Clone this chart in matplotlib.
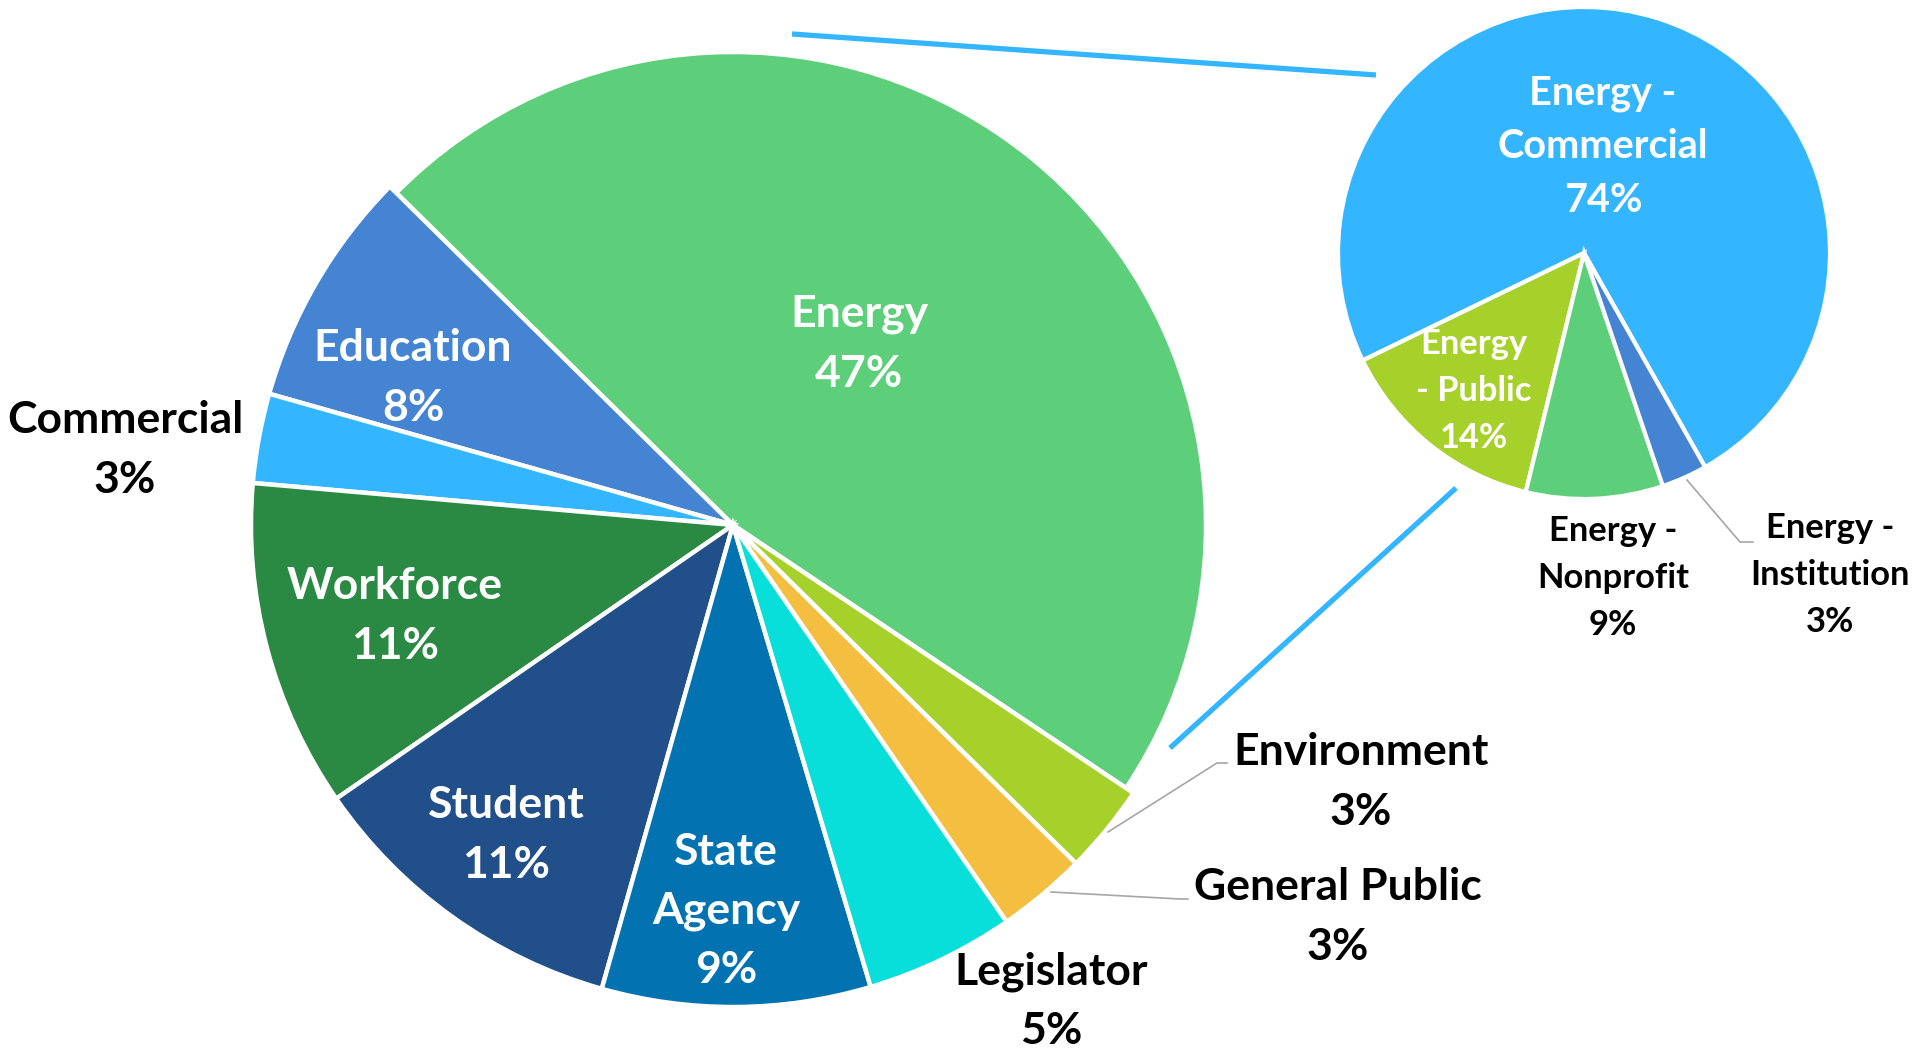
import matplotlib
matplotlib.use("Agg")
import matplotlib.pyplot as plt

plt.rcParams['font.family'] = ['Lato', 'DejaVu Sans']

# ---- data ----
main_labels = ["Energy", "Education", "Commercial", "Workforce", "Student",
               "State\nAgency", "Legislator", "General Public", "Environment"]
main_values = [47, 8, 3, 11, 11, 9, 5, 3, 3]
main_colors = ["#5DCF7A", "#4584D3", "#33B5FF", "#2A8A43", "#214F8A",
               "#0272B1", "#08DEDA", "#F4BF40", "#A6D12B"]

sub_labels = ["Energy -\nCommercial", "Energy\n- Public", "Energy -\nNonprofit", "Energy -\nInstitution"]
sub_values = [74, 14, 9, 3]
sub_colors = ["#33B5FF", "#A6D12B", "#5DCF7A", "#4584D3"]

W, H = 1917, 1049
def Y(y):
    return H - y

fig = plt.figure(figsize=(W / 100, H / 100), dpi=100)
ax = fig.add_axes([0, 0, 1, 1])

# main pie
main_c = (733, Y(525))
main_r = 482
explode = [9 / main_r] + [0] * (len(main_values) - 1)
wedges, _ = ax.pie(main_values, colors=main_colors, startangle=-33.8, counterclock=True,
                   center=main_c, radius=main_r, explode=explode,
                   wedgeprops=dict(edgecolor="white", linewidth=3.2))
wedges[0].set_radius(473)

# secondary pie
sub_c = (1584, Y(253))
sub_r = 246
sw, _ = ax.pie(sub_values, colors=sub_colors, startangle=-60.5, counterclock=True,
               center=sub_c, radius=sub_r,
               wedgeprops=dict(edgecolor="white", linewidth=3.0))

# connector lines
conn = [((792, 34), (1376, 75)), ((1170, 748), (1456, 488))]
for (x0, y0), (x1, y1) in conn:
    ax.plot([x0, x1], [Y(y0), Y(y1)], color="#33B5FF", lw=3.8, solid_capstyle="butt", zorder=3)

# leader lines
leaders = [
    [(1108, 832), (1217, 763), (1227, 763)],
    [(1051, 892), (1180, 899), (1188, 899)],
    [(1687, 480), (1740, 542), (1753, 542)],
]
for pts in leaders:
    ax.plot([p[0] for p in pts], [Y(p[1]) for p in pts], color="#A6A6A6", lw=1.2, zorder=3)

def pct(v):
    return f"{v}%"

# main labels: (x, y, color)
main_pos = [(859, 344, "white"), (413, 378, "white"), (125, 450, "black"),
            (395, 616, "white"), (506, 835, "white"), (726, 911, "white"),
            (1051, 1001, "black"), (1338, 917, "black"), (1361, 782, "black")]
for lab, v, (x, y, c) in zip(main_labels, main_values, main_pos):
    ax.text(x, Y(y), f"{lab}\n{pct(v)}", ha="center", va="center", color=c,
            fontsize=32, fontweight="bold", linespacing=1.58, zorder=4)

sub_pos = [(1603, 147, "white", 28.5), (1474, 391, "white", 24.8),
           (1613, 578, "black", 24.8), (1830, 575, "black", 24.8)]
for lab, v, (x, y, c, fs) in zip(sub_labels, sub_values, sub_pos):
    ax.text(x, Y(y), f"{lab}\n{pct(v)}", ha="center", va="center", color=c,
            fontsize=fs, fontweight="bold", linespacing=1.56, zorder=4)

ax.set_xlim(0, W)
ax.set_ylim(0, H)
ax.set_aspect("auto")
ax.axis("off")

fig.savefig("out.png", dpi=100, facecolor="white")
